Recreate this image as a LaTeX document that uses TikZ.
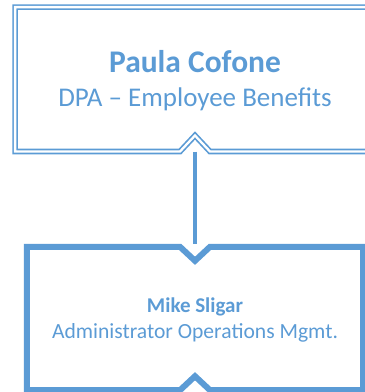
\documentclass[tikz,border=0pt]{standalone}
\usepackage{fontspec}
\setmainfont{Carlito}
\definecolor{acc}{HTML}{5B9BD5}
\begin{document}
\begin{tikzpicture}[x=1pt,y=-1pt,
  area/.style={rectangle, draw=none, inner sep=0pt},
  topline/.style={draw=acc, line width=1.7pt, double=white, double distance=2.3pt, miter limit=20},
  botline/.style={draw=acc, line width=6pt, miter limit=20},
  link/.style={draw=acc, line width=4pt},
  bigname/.style={anchor=base, text=acc, inner sep=0pt, font=\bfseries\fontsize{31.5}{36}\selectfont},
  bigrole/.style={anchor=base, text=acc, inner sep=0pt, font=\fontsize{27}{32}\selectfont},
  smallname/.style={anchor=base, text=acc, inner sep=0pt, font=\bfseries\fontsize{21}{25}\selectfont},
  smallrole/.style={anchor=base, text=acc, inner sep=0pt, font=\fontsize{21.6}{25}\selectfont}]
\useasboundingbox (0,0) rectangle (365,392);
\node[area, minimum width=359.4pt, minimum height=144pt] (top) at (195,79.3) {};
\node[area, minimum width=336pt, minimum height=143pt] (bot) at (195,318.5) {};
\draw[link] (top.south) -- ([yshift=3pt]bot.north);
\draw[topline] (top.north west) -- (top.north east) -- (top.south east)
  -- ([xshift=15pt]top.south) -- ([yshift=16pt]top.south) -- ([xshift=-15pt]top.south)
  -- (top.south west) -- cycle;
\draw[botline] (bot.north west) -- ([xshift=-15pt]bot.north) -- ([yshift=-14pt]bot.north)
  -- ([xshift=15pt]bot.north) -- (bot.north east) -- (bot.south east)
  -- ([xshift=15pt]bot.south) -- ([yshift=14pt]bot.south) -- ([xshift=-15pt]bot.south)
  -- (bot.south west) -- cycle;
\node[bigname] (t1) at (195,72.7) {Paula Cofone};
\node[bigrole] (t2) at (195,106) {DPA – Employee Benefits};
\node[smallname] (b1) at (195,312.7) {Mike Sligar};
\node[smallrole] (b2) at (195,338) {Administrator Operations Mgmt.};
\end{tikzpicture}
\end{document}
